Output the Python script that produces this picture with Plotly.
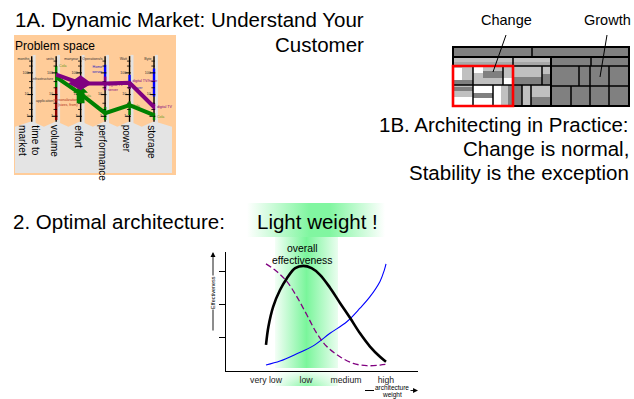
import plotly.graph_objects as go

W, H = 634, 399
FONT = "Liberation Sans, Arial, Helvetica, sans-serif"

# ---------------------------------------------------------------------------
# 2. Effectiveness against architecture weight (x: 0 = very low ... 3 = high)
# ---------------------------------------------------------------------------
weight_ticks = [0, 1, 2, 3]
weight_labels = ["very low", "low", "medium", "high"]
effect_ticks = [1, 2, 3]

overall_x = [0.0, 0.06, 0.18, 0.35, 0.52, 0.73, 0.93, 1.14, 1.35, 1.6, 1.85, 2.1, 2.35, 2.6, 2.85, 3.0]
overall_y = [0.79, 1.34, 1.95, 2.45, 2.80, 3.11, 3.18, 3.11, 2.91, 2.52, 2.06, 1.61, 1.14, 0.74, 0.43, 0.28]

decline_x = [0.0, 0.27, 0.52, 0.77, 1.02, 1.27, 1.52, 1.85, 2.18, 2.52, 2.85, 3.0]
decline_y = [3.24, 3.01, 2.71, 2.25, 1.70, 1.14, 0.74, 0.43, 0.23, 0.16, 0.18, 0.20]

rise_x = [0.0, 0.35, 0.77, 1.18, 1.6, 2.02, 2.35, 2.6, 2.85, 2.96, 3.0]
rise_y = [0.18, 0.30, 0.52, 0.76, 1.14, 1.49, 1.90, 2.25, 2.71, 3.06, 3.24]

# ---------------------------------------------------------------------------
# 1A. Problem space: parallel axes, values normalised 0 (bottom) .. 1 (top)
# ---------------------------------------------------------------------------
pc_axes = ["time to<br>market", "volume", "effort", "performance", "power", "storage"]
pc_units = ["months", "units", "manyear", "Operations/s", "Watt", "Byte"]
pc_major = [0.06, 0.41, 0.76]
pc_major_text = ["1", "10", "100"]
pc_minor = [0.17, 0.27, 0.52, 0.62, 0.87, 0.95]

green_axes = [1, 2, 3, 4, 5]
green_vals = [0.69, 0.42, 0.11, 0.24, 0.08]
purple_axes = [1, 2, 3, 4, 5]
purple_vals = [0.73, 0.59, 0.59, 0.60, 0.21]

# coloured ranges on the axes: (axis, from, to, colour)
pc_ranges = [
    (1, 0.00, 0.53, "#8b0000"), (1, 0.53, 0.87, "#008000"),
    (3, 0.54, 0.89, "#0000ff"), (3, 0.48, 0.70, "#800080"), (3, 0.00, 0.21, "#008000"),
    (4, 0.54, 0.73, "#0000ff"), (4, 0.50, 0.62, "#800080"), (4, 0.08, 0.30, "#008000"),
    (5, 0.38, 0.83, "#0000ff"), (5, 0.16, 0.27, "#800080"), (5, 0.00, 0.11, "#008000"),
]

# small annotations along the axes: (axis, value, side, text, colour)
pc_notes = [
    (1, 0.87, "right", "Cola", "#6a9a1a"),
    (1, 0.66, "left", "infrastructure", "#333333"),
    (1, 0.31, "left", "application", "#333333"),
    (2, 0.39, "right", "Cola", "#6a9a1a"),
    (2, 0.32, "left", "personalization", "#b03020"),
    (2, 0.24, "left", "(sizes, from)", "#b03020"),
    (3, 0.86, "left", "Home", "#2020c0"),
    (3, 0.77, "left", "server", "#2020c0"),
    (3, 0.56, "right", "digital TV", "#800080"),
    (3, 0.49, "right", "server", "#800080"),
    (4, 0.63, "right", "digital TV/home", "#800080"),
    (4, 0.52, "right", "server", "#2020c0"),
    (4, 0.23, "right", "Cola", "#6a9a1a"),
    (5, 0.21, "right", "digital TV", "#800080"),
    (5, 0.05, "right", "Cola", "#6a9a1a"),
]

# ---------------------------------------------------------------------------
# 1B. Architecture mosaic (local grid units, origin top-left)
# ---------------------------------------------------------------------------
DARK, LIGHT, WHITE = "#808080", "#c0c0c0", "#ffffff"
tm_blocks = [  # x0, x1, y0, y1, fill
    (0, 79, 0, 10, DARK), (79, 176, 0, 10, DARK),
    (0, 60, 10, 19, LIGHT), (60, 98, 10, 19, LIGHT),
    (0, 20, 19, 38, LIGHT), (20, 50, 19, 38, LIGHT), (50, 60, 19, 38, LIGHT),
    (0, 20, 38, 59, LIGHT), (20, 40, 38, 59, WHITE), (40, 60, 38, 59, WHITE),
    (60, 89, 19, 38, LIGHT), (89, 98, 19, 38, LIGHT),
    (60, 69, 38, 59, DARK), (69, 78, 38, 59, LIGHT), (78, 98, 38, 59, LIGHT),
    (98, 138, 10, 19, DARK), (138, 176, 10, 19, DARK),
    (98, 126, 19, 39, DARK), (126, 137, 19, 39, DARK), (137, 156, 19, 39, DARK), (156, 176, 19, 39, DARK),
    (98, 118, 39, 59, DARK), (118, 137, 39, 59, DARK), (137, 156, 39, 59, DARK), (156, 176, 39, 59, DARK),
]
tm_fills = [  # inner shading without borders
    (0, 60, 15, 19, "#a8a8a8"), (60, 98, 15, 19, "#a8a8a8"),
    (1, 9, 21, 33, WHITE), (0, 20, 33, 38, DARK),
    (20, 30, 19, 26, WHITE), (30, 50, 24, 31, DARK),
    (50, 60, 31, 38, WHITE),
    (0, 20, 40, 44, DARK), (0, 20, 50, 59, WHITE),
    (20, 40, 46, 51, DARK),
    (48, 55, 38, 59, LIGHT), (55, 60, 38, 59, DARK),
    (60, 89, 30, 38, DARK), (89, 98, 27, 38, DARK),
    (78, 98, 50, 59, DARK),
]
tm_sections = [(0, 176, 0, 59), (0, 98, 10, 59), (98, 176, 10, 59)]
tm_focus = (0, 60, 19, 59)


def px(x, y):
    """pixel position on the slide -> paper coordinates"""
    return x / W, 1 - y / H


fig = go.Figure()

# ---- soft green highlights (canvas subplot in slide pixels) ----
glow = "115,245,150"
fig.add_trace(go.Scatter(
    x=[247, 385, 385, 247], y=[203, 203, 237, 237], fill="toself", mode="lines",
    line=dict(width=0), hoverinfo="skip",
    fillgradient=dict(type="horizontal", colorscale=[
        [0, f"rgba({glow},0.0)"], [0.45, f"rgba({glow},0.9)"],
        [0.6, f"rgba({glow},0.9)"], [1, f"rgba({glow},0.0)"]]),
    xaxis="x", yaxis="y"))
fig.add_trace(go.Scatter(
    x=[275, 338, 338, 275], y=[237, 237, 386, 386], fill="toself", mode="lines",
    line=dict(width=0), hoverinfo="skip",
    fillgradient=dict(type="horizontal", colorscale=[
        [0, f"rgba({glow},0.08)"], [0.5, f"rgba({glow},0.95)"], [1, f"rgba({glow},0.15)"]]),
    xaxis="x", yaxis="y"))
fig.add_trace(go.Scatter(
    x=[270, 343, 343, 270], y=[368, 368, 388, 388], fill="toself", mode="lines",
    line=dict(width=0), hoverinfo="skip",
    fillgradient=dict(type="vertical", colorscale=[
        [0, "rgba(255,255,255,0)"], [1, "rgba(255,255,255,1)"]]),
    xaxis="x", yaxis="y"))

# ---- effectiveness curves ----
fig.add_trace(go.Scatter(x=rise_x, y=rise_y, mode="lines", line=dict(color="#0000ff", width=1.1, shape="spline"),
                         xaxis="x2", yaxis="y2", hoverinfo="skip"))
fig.add_trace(go.Scatter(x=decline_x, y=decline_y, mode="lines",
                         line=dict(color="#800080", width=1.3, dash="6px,3px", shape="spline"),
                         xaxis="x2", yaxis="y2", hoverinfo="skip"))
fig.add_trace(go.Scatter(x=overall_x, y=overall_y, mode="lines", line=dict(color="black", width=2.6, shape="spline"),
                         xaxis="x2", yaxis="y2", hoverinfo="skip"))

# ---- problem space ----
n_ax = len(pc_axes)
gray_x, gray_y = [-0.683], [-0.11]
for i in range(n_ax):
    gray_x += [i, i + 0.5]
    gray_y += [-0.02, -0.11]
gray_x[-1] = 5.736
gray_x += [5.736, -0.683]
gray_y += [-0.855, -0.855]
fig.add_trace(go.Scatter(x=gray_x, y=gray_y, fill="toself", mode="lines", line=dict(width=0),
                         fillcolor="#e4e4e4", xaxis="x3", yaxis="y3", hoverinfo="skip"))

ax_x, ax_y = [], []
for i in range(n_ax):
    ax_x += [i, i, None]
    ax_y += [-0.03, 1.03, None]
fig.add_trace(go.Scatter(x=ax_x, y=ax_y, mode="lines", line=dict(color="black", width=1.4),
                         xaxis="x3", yaxis="y3", hoverinfo="skip"))

for a, v0, v1, col in pc_ranges:
    fig.add_trace(go.Scatter(x=[a, a], y=[v0, v1], mode="lines", line=dict(color=col, width=2.4),
                             xaxis="x3", yaxis="y3", hoverinfo="skip"))

left_notes = [(a, v) for a, v, side, _, _ in pc_notes if side == "left"]
tick_x, tick_y, minor_x, minor_y, lab_x, lab_y, lab_t = [], [], [], [], [], [], []
for i in range(n_ax):
    for v, t in zip(pc_major, pc_major_text):
        tick_x.append(i - 0.06); tick_y.append(v)
        # leave the decade label out where an axis note already sits
        if any(a == i and abs(nv - v) < 0.07 for a, nv in left_notes):
            continue
        lab_x.append(i - 0.13); lab_y.append(v); lab_t.append(t)
    for v in pc_minor:
        minor_x.append(i - 0.035); minor_y.append(v)
fig.add_trace(go.Scatter(x=tick_x, y=tick_y, mode="markers",
                         marker=dict(symbol="line-ew", size=4, line=dict(color="black", width=1)),
                         xaxis="x3", yaxis="y3", hoverinfo="skip"))
fig.add_trace(go.Scatter(x=minor_x, y=minor_y, mode="markers",
                         marker=dict(symbol="line-ew", size=2.5, line=dict(color="black", width=0.8)),
                         xaxis="x3", yaxis="y3", hoverinfo="skip"))
fig.add_trace(go.Scatter(x=lab_x, y=lab_y, mode="text", text=lab_t, textposition="middle left",
                         textfont=dict(size=3.6, color="#333333", family=FONT),
                         xaxis="x3", yaxis="y3", hoverinfo="skip"))
fig.add_trace(go.Scatter(x=[i - 0.1 for i in range(n_ax)], y=[0.98] * n_ax, mode="text", text=pc_units,
                         textposition="middle left", textfont=dict(size=3.6, color="#333333", family=FONT),
                         xaxis="x3", yaxis="y3", hoverinfo="skip"))
for a, v, side, t, col in pc_notes:
    fig.add_trace(go.Scatter(x=[a + (0.12 if side == "right" else -0.12)], y=[v], mode="text", text=[t],
                             textposition="middle right" if side == "right" else "middle left",
                             textfont=dict(size=3.6, color=col, family=FONT),
                             xaxis="x3", yaxis="y3", hoverinfo="skip"))

fig.add_trace(go.Scatter(x=green_axes, y=green_vals, mode="lines", line=dict(color="#008000", width=4),
                         xaxis="x3", yaxis="y3", hoverinfo="skip"))
fig.add_trace(go.Scatter(x=purple_axes, y=purple_vals, mode="lines", line=dict(color="#800080", width=4),
                         xaxis="x3", yaxis="y3", hoverinfo="skip"))

# block arrow on the effort axis (green) and diamond marker (purple)
ge = green_vals[green_axes.index(2)]
arrow_x = [2, 2.3, 2.16, 2.16, 1.84, 1.84, 1.7, 2]
arrow_y = [ge + 0.14, ge + 0.02, ge + 0.02, ge - 0.15, ge - 0.15, ge + 0.02, ge + 0.02, ge + 0.14]
fig.add_trace(go.Scatter(x=arrow_x, y=arrow_y, fill="toself", mode="lines", line=dict(width=0, color="#008000"),
                         fillcolor="#008000", xaxis="x3", yaxis="y3", hoverinfo="skip"))
pe = purple_vals[purple_axes.index(2)]
fig.add_trace(go.Scatter(x=[1.5, 2, 2.46, 2, 1.5], y=[pe, pe + 0.13, pe, pe - 0.11, pe], fill="toself",
                         mode="lines", line=dict(width=0, color="#800080"), fillcolor="#800080",
                         xaxis="x3", yaxis="y3", hoverinfo="skip"))

# ---- shapes ----
shapes = []
ox0, oy1 = px(14, 35)
ox1, oy0 = px(176, 175)
shapes.append(dict(type="rect", xref="paper", yref="paper", x0=ox0, x1=ox1, y0=oy0, y1=oy1,
                   fillcolor="#ffcc99", line=dict(width=0), layer="below"))
for i in range(n_ax):
    shapes.append(dict(type="rect", xref="x3", yref="y3", x0=i + 0.04, x1=i + 0.16, y0=-0.05, y1=1.05,
                       fillcolor="#e2e2e2", line=dict(width=0), layer="below"))

for x0, x1, y0, y1, col in tm_blocks:
    shapes.append(dict(type="rect", xref="x4", yref="y4", x0=x0, x1=x1, y0=y0, y1=y1,
                       fillcolor=col, line=dict(width=0)))
for x0, x1, y0, y1, col in tm_fills:
    shapes.append(dict(type="rect", xref="x4", yref="y4", x0=x0, x1=x1, y0=y0, y1=y1,
                       fillcolor=col, line=dict(width=0)))
for x0, x1, y0, y1, _ in tm_blocks:
    shapes.append(dict(type="rect", xref="x4", yref="y4", x0=x0, x1=x1, y0=y0, y1=y1,
                       line=dict(color="black", width=1)))
for x0, x1, y0, y1 in tm_sections:
    shapes.append(dict(type="rect", xref="x4", yref="y4", x0=x0, x1=x1, y0=y0, y1=y1,
                       line=dict(color="black", width=2)))
fx0, fx1, fy0, fy1 = tm_focus
shapes.append(dict(type="rect", xref="x4", yref="y4", x0=fx0, x1=fx1, y0=fy0, y1=fy1,
                   line=dict(color="#ff0000", width=2.6)))
connectors = [((506, 35), (493, 72)), ((607, 35), (600, 77)),   # label leaders
              ((365, 390.5), (374, 390.5))]                      # start of the weight arrow
for (a, b), (c, d) in connectors:
    p0, p1 = px(a, b), px(c, d)
    shapes.append(dict(type="line", xref="paper", yref="paper", x0=p0[0], y0=p0[1], x1=p1[0], y1=p1[1],
                       line=dict(color="black", width=1)))

# ---- annotations ----
ann = []


def text(x, y, s, size, xanchor="center", color="black", **kw):
    px_, py_ = px(x, y)
    ann.append(dict(x=px_, y=py_, xref="paper", yref="paper", text=s, showarrow=False,
                    xanchor=xanchor, yanchor="middle", font=dict(size=size, color=color, family=FONT), **kw))


text(366, 19, "1A. Dynamic Market: Understand Your", 20.5, "right")
text(366, 44.5, "Customer", 20.5, "right")
text(13, 46, "Problem space", 12, "left")
text(506, 19.5, "Change", 14.5)
text(607, 19.5, "Growth", 14.5)
text(631, 124, "1B. Architecting in Practice:", 20.5, "right")
text(631, 149, "Change is normal,", 20.5, "right")
text(631, 173, "Stability is the exception", 20.5, "right")
text(11, 221, "2. Optimal architecture:", 20.5, "left")
text(254.5, 221, "Light weight !", 20.5, "left")
text(302, 248, "overall", 10.4)
text(302, 260.5, "effectiveness", 10.4)

for i, name in enumerate(pc_axes):
    ann.append(dict(x=i - 0.09, y=-0.05, xref="x3", yref="y3", text=name, showarrow=False,
                    textangle=90, xanchor="center", yanchor="top",
                    font=dict(size=10, color="black", family=FONT)))

# axis arrows of the effectiveness chart
tip = px(213, 252)
ann.append(dict(x=tip[0], y=tip[1], xref="paper", yref="paper", text="", showarrow=True,
                ax=0, ay=80, arrowhead=2, arrowsize=1.1, arrowwidth=0.9, arrowcolor="black"))
text(213, 293, "Effectiveness", 5.5, textangle=-90, bgcolor="white", borderpad=0)
tip = px(418, 390.5)
ann.append(dict(x=tip[0], y=tip[1], xref="paper", yref="paper", text="", showarrow=True,
                ax=-9, ay=0, arrowhead=2, arrowsize=1.1, arrowwidth=0.9, arrowcolor="black"))
text(391.5, 387, "architecture", 6.5)
text(391.5, 395, "weight", 6.5)

# ---- layout ----
pc_dom_x = [14 / W, 176 / W]
pc_dom_y = [1 - 175 / H, 1 - 35 / H]
fig.update_layout(
    width=W, height=H, margin=dict(l=0, r=0, t=0, b=0),
    paper_bgcolor="white", plot_bgcolor="rgba(0,0,0,0)",
    showlegend=False, hovermode=False,
    font=dict(family=FONT),
    xaxis=dict(domain=[0, 1], range=[0, W], visible=False, anchor="y"),
    yaxis=dict(domain=[0, 1], range=[H, 0], visible=False, anchor="x"),
    xaxis2=dict(domain=[226 / W, 418 / W], range=[-1, 3.8], anchor="y2",
                showline=True, linecolor="black", linewidth=1.2, showgrid=False, zeroline=False,
                tickvals=weight_ticks, ticktext=weight_labels, ticks="",
                tickfont=dict(size=8.7, color="#222222", family=FONT)),
    yaxis2=dict(domain=[1 - 371 / H, 1 - 252 / H], range=[0, 3.6], anchor="x2",
                showline=True, linecolor="black", linewidth=1.2, showgrid=False, zeroline=False,
                tickvals=effect_ticks, ticks="outside", ticklen=6, tickcolor="black", tickwidth=1,
                showticklabels=False),
    xaxis3=dict(domain=pc_dom_x, range=[-0.7236, 5.899], visible=False, anchor="y3"),
    yaxis3=dict(domain=pc_dom_y, range=[-0.887, 1.371], visible=False, anchor="x3"),
    xaxis4=dict(domain=[450 / W, 632 / W], range=[-3, 179], visible=False, anchor="y4"),
    yaxis4=dict(domain=[1 - 109 / H, 1 - 44 / H], range=[62, -3], visible=False, anchor="x4"),
    shapes=shapes,
    annotations=ann,
)

fig.write_html("out.html")
